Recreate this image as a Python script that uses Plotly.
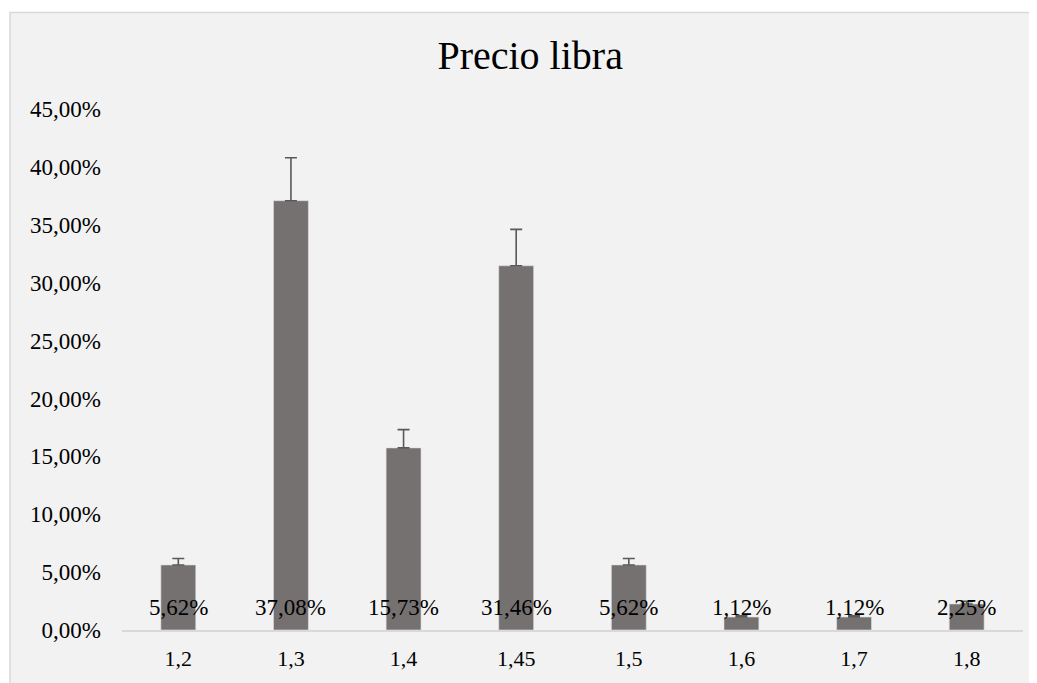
import plotly.graph_objects as go

categories = ["1,2", "1,3", "1,4", "1,45", "1,5", "1,6", "1,7", "1,8"]
values = [5.62, 37.08, 15.73, 31.46, 5.62, 1.12, 1.12, 2.25]
labels = ["5,62%", "37,08%", "15,73%", "31,46%", "5,62%", "1,12%", "1,12%", "2,25%"]
error_pct = 10
y_ticks = [0, 5, 10, 15, 20, 25, 30, 35, 40, 45]
y_tick_text = ["0,00%", "5,00%", "10,00%", "15,00%", "20,00%", "25,00%",
               "30,00%", "35,00%", "40,00%", "45,00%"]

FONT = "Liberation Serif, Times New Roman, serif"

fig = go.Figure()
fig.add_trace(go.Bar(
    x=categories, y=values, width=0.31,
    marker=dict(color="#767171", line=dict(color="#e0e0e0", width=0.6)),
    error_y=dict(type="percent", value=error_pct, symmetric=False, valueminus=0,
                 color="#595959", thickness=1.6, width=6),
    hoverinfo="skip",
))

for c, t in zip(categories, labels):
    fig.add_annotation(x=c, y=0, text=t, showarrow=False, yanchor="bottom",
                       yshift=8, font=dict(family=FONT, size=23, color="#000000"))

fig.add_shape(type="rect", xref="paper", yref="paper", x0=-0.1243, x1=1.2,
              y0=-0.3, y1=1.185, fillcolor="#f2f2f2",
              line=dict(color="#d9d9d9", width=1.5), layer="below")

fig.update_layout(
    width=1029, height=675,
    margin=dict(l=114, r=14, t=101, b=50),
    paper_bgcolor="#ffffff", plot_bgcolor="rgba(0,0,0,0)",
    showlegend=False,
    title=dict(text="Precio libra", x=0.453, xanchor="center", xref="paper",
               y=0.930, yref="container", yanchor="middle",
               font=dict(family=FONT, size=40, color="#000000")),
    font=dict(family=FONT, size=22, color="#000000"),
)
fig.update_xaxes(type="category", showgrid=False, showline=True, linecolor="#d9d9d9",
                 linewidth=1.5, ticks="", ticklabelstandoff=8,
                 tickfont=dict(family=FONT, size=22, color="#000000"))
fig.update_yaxes(range=[0, 45], tickvals=y_ticks, ticktext=y_tick_text,
                 showgrid=False, zeroline=False, showline=False, ticks="",
                 ticklabelstandoff=20,
                 tickfont=dict(family=FONT, size=23, color="#000000"))

fig.write_html("out.html")
